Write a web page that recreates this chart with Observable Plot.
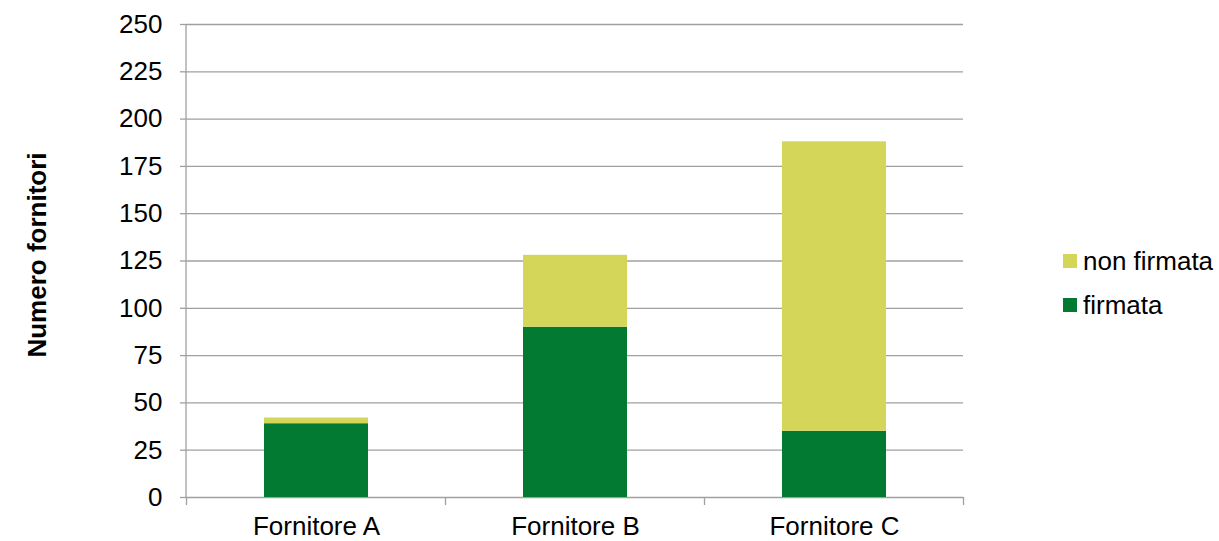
<!DOCTYPE html>
<html>
<head>
<meta charset="utf-8">
<script src="https://cdn.jsdelivr.net/npm/d3@7"></script>
<script src="https://cdn.jsdelivr.net/npm/@observablehq/plot@0.6"></script>
<style>
  body { margin: 0; background: #fff; font-family: "Liberation Sans", Arial, sans-serif; }
  #wrap { position: relative; width: 1219px; height: 541px; }
  #legend { position: absolute; left: 1063px; top: 239px; font-size: 26px; color: #000; }
  .item { display: flex; align-items: center; height: 44px; }
  .sw { width: 14px; height: 14px; margin-right: 6px; }
</style>
</head>
<body>
<div id="wrap"><div id="legend"></div></div>
<script>
const categories = ["Fornitore A", "Fornitore B", "Fornitore C"];
const firmata = [39, 90, 35];
const nonFirmata = [3, 38, 153];
const seriesNames = ["firmata", "non firmata"];
const seriesColors = ["#027a32", "#d4d65a"];
const yTicks = [0, 25, 50, 75, 100, 125, 150, 175, 200, 225, 250];
const yTitle = "Numero fornitori";

const data = [];
categories.forEach((c, i) => {
  data.push({cat: c, type: seriesNames[0], value: firmata[i]});
  data.push({cat: c, type: seriesNames[1], value: nonFirmata[i]});
});

function axisLines(index, scales, values, dimensions) {
  const x = scales.x, y = scales.y;
  const bw = x.bandwidth ? x.bandwidth() : 0;
  const step = x.step ? x.step() : bw;
  const g = d3.create("svg:g");
  const left = dimensions.marginLeft;
  const bottom = y(0);
  g.append("line").attr("x1", left).attr("x2", left)
    .attr("y1", y(yTicks[yTicks.length - 1])).attr("y2", bottom)
    .attr("stroke", "#a0a0a0").attr("stroke-width", 1.3);
  const bounds = categories.map(c => x(c) + bw / 2 - step / 2);
  bounds.push(x(categories[categories.length - 1]) + bw / 2 + step / 2);
  bounds.forEach(b => {
    g.append("line").attr("x1", b).attr("x2", b)
      .attr("y1", bottom).attr("y2", bottom + 8)
      .attr("stroke", "#a0a0a0").attr("stroke-width", 1.3);
  });
  return g.node();
}

const chart = Plot.plot({
  width: 1219,
  height: 541,
  marginLeft: 186,
  marginRight: 256,
  marginTop: 24,
  marginBottom: 44,
  style: {fontFamily: "Liberation Sans, Arial, sans-serif", fontSize: "26px", color: "#000", background: "#fff"},
  x: {domain: categories, paddingInner: 0.6, paddingOuter: 0.3, label: null},
  y: {domain: [0, 250], label: null},
  color: {domain: seriesNames, range: seriesColors},
  marks: [
    Plot.ruleY(yTicks, {stroke: "#a0a0a0", strokeWidth: 1.3, strokeOpacity: 1}),
    Plot.barY(data, {x: "cat", y: "value", fill: "type", order: seriesNames, inset: 0}),
    Plot.axisY({ticks: yTicks, tickSize: 6, tickPadding: 18, stroke: "#a0a0a0", strokeWidth: 1.3, fontSize: 26, label: null}),
    Plot.axisX({tickSize: 0, tickPadding: 19, fontSize: 26, label: null}),
    Plot.text([yTitle], {frameAnchor: "left", dx: -149, dy: -6, rotate: -90, textAnchor: "middle", fontWeight: "bold", fontSize: 26, text: d => d}),
    axisLines
  ]
});
document.getElementById("wrap").prepend(chart);

const legend = document.getElementById("legend");
[1, 0].forEach(i => {
  const it = document.createElement("div");
  it.className = "item";
  it.innerHTML = `<div class="sw" style="background:${seriesColors[i]}"></div><span>${seriesNames[i]}</span>`;
  legend.appendChild(it);
});
</script>
</body>
</html>
